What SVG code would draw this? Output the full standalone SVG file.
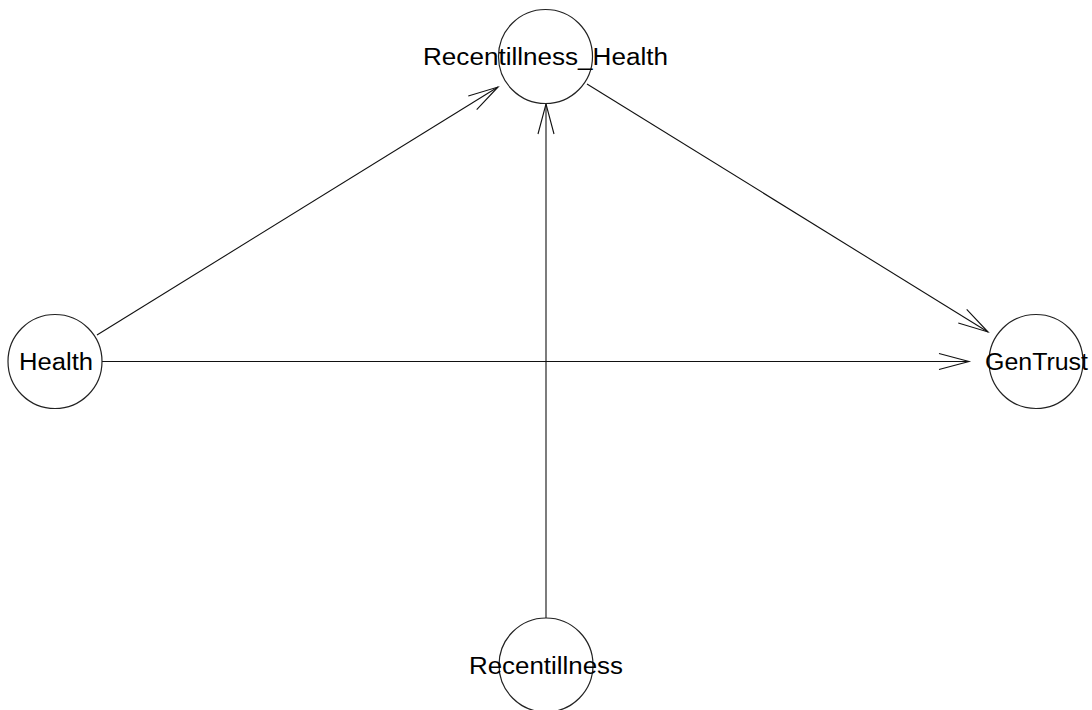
<svg xmlns="http://www.w3.org/2000/svg" width="1092" height="710" viewBox="0 0 1092 710">
<style>
.node circle{fill:#fff;stroke:#222;stroke-width:1.2}
.node text{font-family:"Liberation Sans",Arial,sans-serif;font-size:23px;fill:#000;text-anchor:middle}
.edge{stroke:#111;stroke-width:1.1;fill:none;marker-end:url(#arr)}
</style>
<defs>
<marker id="arr" markerUnits="userSpaceOnUse" markerWidth="40" markerHeight="24" viewBox="-34 -12 40 24" refX="0" refY="0" orient="auto">
<path d="M-30,-8 L0,0 L-30,8" fill="none" stroke="#111" stroke-width="1.1"/>
</marker>
</defs>
<rect width="1092" height="710" fill="#fff"/>
<g id="connectors">
<line class="edge" x1="97" y1="335" x2="498" y2="87"/>
<line class="edge" x1="587" y1="84" x2="988" y2="332"/>
<line class="edge" x1="102" y1="361.5" x2="969" y2="361.5"/>
<line class="edge" x1="546" y1="618" x2="546" y2="104"/>
</g>
<g id="node-recentillness-health" class="node">
<circle cx="545.5" cy="56.5" r="47"/>
<text x="545.5" y="65" textLength="245" lengthAdjust="spacingAndGlyphs">Recentillness_Health</text>
</g>
<g id="node-health" class="node">
<circle cx="55" cy="361.5" r="47"/>
<text x="56" y="370" textLength="74" lengthAdjust="spacingAndGlyphs">Health</text>
</g>
<g id="node-gentrust" class="node">
<circle cx="1036" cy="361.5" r="47"/>
<text x="1036.5" y="370" textLength="103" lengthAdjust="spacingAndGlyphs">GenTrust</text>
</g>
<g id="node-recentillness" class="node">
<circle cx="546" cy="665" r="47"/>
<text x="546" y="674" textLength="154" lengthAdjust="spacingAndGlyphs">Recentillness</text>
</g>
</svg>
